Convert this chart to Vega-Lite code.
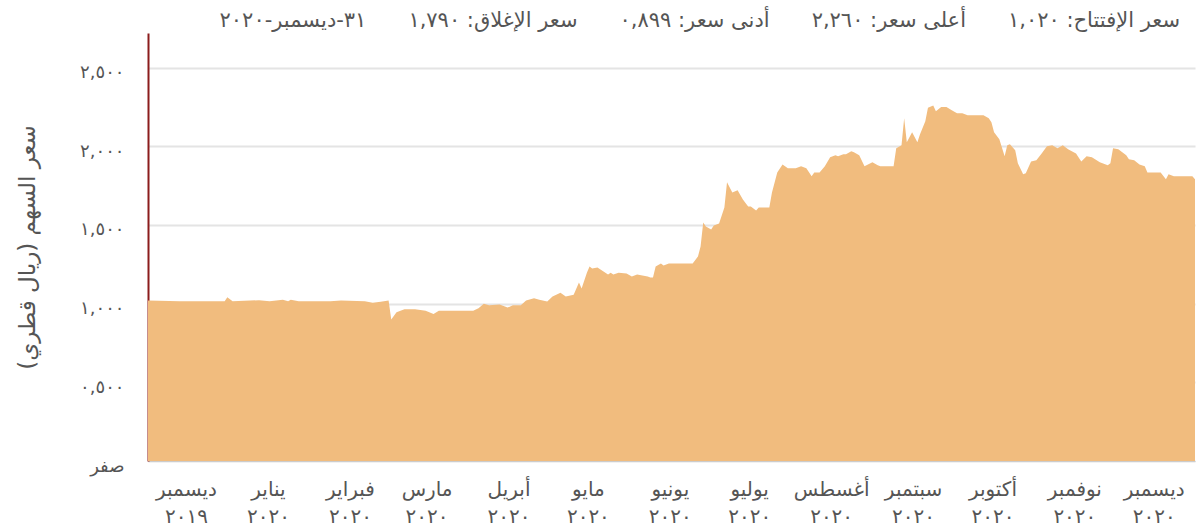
{
  "$schema": "https://vega.github.io/schema/vega-lite/v6.json",
  "width": 1047,
  "height": 428,
  "autosize": {"type": "none"},
  "padding": {"left": 148, "top": 33, "right": 5, "bottom": 65},
  "background": "white",
  "config": {
    "font": "DejaVu Sans",
    "view": {"stroke": null}
  },
  "title": {
    "text": "\u202bسعر الإفتتاح: ١,٠٢٠\u2003\u2003أعلى سعر: ٢,٢٦٠\u2003\u2003أدنى سعر: ٠,٨٩٩\u2003\u2003سعر الإغلاق: ١,٧٩٠\u2003\u2003٣١-ديسمبر-٢٠٢٠\u202c",
    "anchor": "end",
    "fontSize": 21,
    "fontWeight": "normal",
    "color": "#555555",
    "offset": 2,
    "dx": -15
  },
  "data": {
    "values": [
      {"date": "2019-12-01", "price": 1.02},
      {"date": "2019-12-13", "price": 1.015},
      {"date": "2019-12-24", "price": 1.015},
      {"date": "2019-12-30", "price": 1.015},
      {"date": "2019-12-31", "price": 1.04},
      {"date": "2020-01-02", "price": 1.015},
      {"date": "2020-01-12", "price": 1.022},
      {"date": "2020-01-16", "price": 1.015},
      {"date": "2020-01-21", "price": 1.025},
      {"date": "2020-01-23", "price": 1.015},
      {"date": "2020-01-24", "price": 1.025},
      {"date": "2020-01-27", "price": 1.015},
      {"date": "2020-02-08", "price": 1.015},
      {"date": "2020-02-12", "price": 1.02},
      {"date": "2020-02-21", "price": 1.015},
      {"date": "2020-02-24", "price": 1.005},
      {"date": "2020-02-27", "price": 1.012},
      {"date": "2020-03-01", "price": 1.02},
      {"date": "2020-03-02", "price": 0.899},
      {"date": "2020-03-04", "price": 0.945},
      {"date": "2020-03-07", "price": 0.965},
      {"date": "2020-03-11", "price": 0.965},
      {"date": "2020-03-15", "price": 0.955},
      {"date": "2020-03-18", "price": 0.935},
      {"date": "2020-03-20", "price": 0.955},
      {"date": "2020-03-26", "price": 0.955},
      {"date": "2020-04-02", "price": 0.955},
      {"date": "2020-04-04", "price": 0.97},
      {"date": "2020-04-06", "price": 1.0},
      {"date": "2020-04-08", "price": 0.99},
      {"date": "2020-04-12", "price": 0.995},
      {"date": "2020-04-15", "price": 0.975},
      {"date": "2020-04-17", "price": 0.99},
      {"date": "2020-04-20", "price": 0.99},
      {"date": "2020-04-22", "price": 1.02},
      {"date": "2020-04-25", "price": 1.035},
      {"date": "2020-04-27", "price": 1.025},
      {"date": "2020-04-30", "price": 1.013},
      {"date": "2020-05-02", "price": 1.045},
      {"date": "2020-05-05", "price": 1.07},
      {"date": "2020-05-07", "price": 1.045},
      {"date": "2020-05-10", "price": 1.057},
      {"date": "2020-05-12", "price": 1.134},
      {"date": "2020-05-13", "price": 1.096},
      {"date": "2020-05-15", "price": 1.197},
      {"date": "2020-05-16", "price": 1.236},
      {"date": "2020-05-17", "price": 1.223},
      {"date": "2020-05-19", "price": 1.229},
      {"date": "2020-05-23", "price": 1.185},
      {"date": "2020-05-24", "price": 1.197},
      {"date": "2020-05-25", "price": 1.185},
      {"date": "2020-05-27", "price": 1.197},
      {"date": "2020-05-30", "price": 1.191},
      {"date": "2020-06-01", "price": 1.172},
      {"date": "2020-06-03", "price": 1.185},
      {"date": "2020-06-07", "price": 1.172},
      {"date": "2020-06-08", "price": 1.166},
      {"date": "2020-06-09", "price": 1.166},
      {"date": "2020-06-10", "price": 1.236},
      {"date": "2020-06-12", "price": 1.255},
      {"date": "2020-06-13", "price": 1.242},
      {"date": "2020-06-15", "price": 1.255},
      {"date": "2020-06-24", "price": 1.255},
      {"date": "2020-06-26", "price": 1.299},
      {"date": "2020-06-27", "price": 1.363},
      {"date": "2020-06-28", "price": 1.516},
      {"date": "2020-06-29", "price": 1.49},
      {"date": "2020-07-01", "price": 1.471},
      {"date": "2020-07-02", "price": 1.497},
      {"date": "2020-07-04", "price": 1.51},
      {"date": "2020-07-06", "price": 1.611},
      {"date": "2020-07-07", "price": 1.771},
      {"date": "2020-07-09", "price": 1.707},
      {"date": "2020-07-11", "price": 1.72},
      {"date": "2020-07-13", "price": 1.662},
      {"date": "2020-07-15", "price": 1.618},
      {"date": "2020-07-16", "price": 1.618},
      {"date": "2020-07-18", "price": 1.592},
      {"date": "2020-07-19", "price": 1.611},
      {"date": "2020-07-23", "price": 1.611},
      {"date": "2020-07-24", "price": 1.707},
      {"date": "2020-07-26", "price": 1.834},
      {"date": "2020-07-28", "price": 1.885},
      {"date": "2020-07-30", "price": 1.86},
      {"date": "2020-08-02", "price": 1.86},
      {"date": "2020-08-04", "price": 1.873},
      {"date": "2020-08-06", "price": 1.86},
      {"date": "2020-08-08", "price": 1.809},
      {"date": "2020-08-09", "price": 1.834},
      {"date": "2020-08-11", "price": 1.834},
      {"date": "2020-08-13", "price": 1.873},
      {"date": "2020-08-15", "price": 1.93},
      {"date": "2020-08-17", "price": 1.943},
      {"date": "2020-08-18", "price": 1.936},
      {"date": "2020-08-20", "price": 1.949},
      {"date": "2020-08-21", "price": 1.949},
      {"date": "2020-08-23", "price": 1.968},
      {"date": "2020-08-24", "price": 1.962},
      {"date": "2020-08-26", "price": 1.943},
      {"date": "2020-08-28", "price": 1.873},
      {"date": "2020-08-31", "price": 1.898},
      {"date": "2020-09-02", "price": 1.879},
      {"date": "2020-09-03", "price": 1.873},
      {"date": "2020-09-08", "price": 1.873},
      {"date": "2020-09-09", "price": 1.987},
      {"date": "2020-09-11", "price": 2.006},
      {"date": "2020-09-12", "price": 2.178},
      {"date": "2020-09-13", "price": 2.025},
      {"date": "2020-09-15", "price": 2.089},
      {"date": "2020-09-17", "price": 2.025},
      {"date": "2020-09-18", "price": 2.076},
      {"date": "2020-09-20", "price": 2.159},
      {"date": "2020-09-21", "price": 2.245},
      {"date": "2020-09-23", "price": 2.26},
      {"date": "2020-09-24", "price": 2.223},
      {"date": "2020-09-26", "price": 2.25},
      {"date": "2020-09-28", "price": 2.25},
      {"date": "2020-09-30", "price": 2.229},
      {"date": "2020-10-02", "price": 2.21},
      {"date": "2020-10-04", "price": 2.21},
      {"date": "2020-10-06", "price": 2.197},
      {"date": "2020-10-12", "price": 2.197},
      {"date": "2020-10-14", "price": 2.178},
      {"date": "2020-10-15", "price": 2.153},
      {"date": "2020-10-16", "price": 2.089},
      {"date": "2020-10-18", "price": 2.045},
      {"date": "2020-10-20", "price": 1.936},
      {"date": "2020-10-21", "price": 2.006},
      {"date": "2020-10-22", "price": 2.013},
      {"date": "2020-10-24", "price": 1.975},
      {"date": "2020-10-25", "price": 1.892},
      {"date": "2020-10-27", "price": 1.822},
      {"date": "2020-10-28", "price": 1.828},
      {"date": "2020-10-30", "price": 1.904},
      {"date": "2020-11-01", "price": 1.911},
      {"date": "2020-11-03", "price": 1.955},
      {"date": "2020-11-05", "price": 2.0},
      {"date": "2020-11-07", "price": 2.006},
      {"date": "2020-11-09", "price": 1.987},
      {"date": "2020-11-11", "price": 2.006},
      {"date": "2020-11-13", "price": 1.981},
      {"date": "2020-11-16", "price": 1.955},
      {"date": "2020-11-18", "price": 1.904},
      {"date": "2020-11-20", "price": 1.936},
      {"date": "2020-11-22", "price": 1.93},
      {"date": "2020-11-25", "price": 1.898},
      {"date": "2020-11-28", "price": 1.879},
      {"date": "2020-11-29", "price": 1.892},
      {"date": "2020-11-30", "price": 1.987},
      {"date": "2020-12-02", "price": 1.981},
      {"date": "2020-12-05", "price": 1.943},
      {"date": "2020-12-06", "price": 1.917},
      {"date": "2020-12-08", "price": 1.911},
      {"date": "2020-12-10", "price": 1.885},
      {"date": "2020-12-12", "price": 1.873},
      {"date": "2020-12-13", "price": 1.834},
      {"date": "2020-12-16", "price": 1.834},
      {"date": "2020-12-18", "price": 1.834},
      {"date": "2020-12-20", "price": 1.79},
      {"date": "2020-12-21", "price": 1.822},
      {"date": "2020-12-23", "price": 1.809},
      {"date": "2020-12-30", "price": 1.809},
      {"date": "2020-12-31", "price": 1.79}
    ]
  },
  "mark": {"type": "area", "color": "#f1bc7e", "opacity": 1, "interpolate": "linear"},
  "encoding": {
    "x": {
      "field": "date",
      "type": "temporal",
      "scale": {
        "type": "utc",
        "domain": [
          {"year": 2019, "month": 12, "date": 1, "utc": true},
          {"year": 2020, "month": 12, "date": 31, "utc": true}
        ]
      },
      "axis": {
        "title": null,
        "grid": false,
        "ticks": false,
        "domain": true,
        "domainColor": "#cccccc",
        "domainWidth": 1,
        "labelOverlap": false,
        "labelBound": false,
        "labelFlush": false,
        "labelOffset": 38,
        "labelPadding": 18,
        "labelFontSize": 20,
        "labelLineHeight": 27,
        "labelColor": "#555555",
        "labelBaseline": "top",
        "values": [
          {"year": 2019, "month": 12, "date": 1, "utc": true},
          {"year": 2020, "month": 1, "date": 1, "utc": true},
          {"year": 2020, "month": 2, "date": 1, "utc": true},
          {"year": 2020, "month": 3, "date": 1, "utc": true},
          {"year": 2020, "month": 4, "date": 1, "utc": true},
          {"year": 2020, "month": 5, "date": 1, "utc": true},
          {"year": 2020, "month": 6, "date": 1, "utc": true},
          {"year": 2020, "month": 7, "date": 1, "utc": true},
          {"year": 2020, "month": 8, "date": 1, "utc": true},
          {"year": 2020, "month": 9, "date": 1, "utc": true},
          {"year": 2020, "month": 10, "date": 1, "utc": true},
          {"year": 2020, "month": 11, "date": 1, "utc": true},
          {"year": 2020, "month": 12, "date": 1, "utc": true}
        ],
        "labelExpr": "[['يناير','فبراير','مارس','أبريل','مايو','يونيو','يوليو','أغسطس','سبتمبر','أكتوبر','نوفمبر','ديسمبر'][utcmonth(datum.value)], utcyear(datum.value) == 2019 ? '٢٠١٩' : '٢٠٢٠']"
      }
    },
    "y": {
      "field": "price",
      "type": "quantitative",
      "scale": {"domain": [0, 2.72], "nice": false, "zero": true},
      "axis": {
        "title": "\u202bسعر السهم (ريال قطري)\u202c",
        "titleFontSize": 23,
        "titleFontWeight": "normal",
        "titleColor": "#555555",
        "titlePadding": 40,
        "values": [0, 0.5, 1, 1.5, 2, 2.5],
        "labelExpr": "datum.value == 0 ? 'صفر' : datum.value == 0.5 ? '٠,٥٠٠' : datum.value == 1 ? '١,٠٠٠' : datum.value == 1.5 ? '١,٥٠٠' : datum.value == 2 ? '٢,٠٠٠' : '٢,٥٠٠'",
        "labelFontSize": 18,
        "labelColor": "#555555",
        "labelPadding": 24,
        "labelOffset": 5,
        "labelBound": false,
        "labelFlush": false,
        "ticks": false,
        "grid": true,
        "gridColor": "#e4e4e4",
        "gridWidth": 2,
        "domain": true,
        "domainColor": "#8b1c1c",
        "domainWidth": 2
      }
    }
  }
}
